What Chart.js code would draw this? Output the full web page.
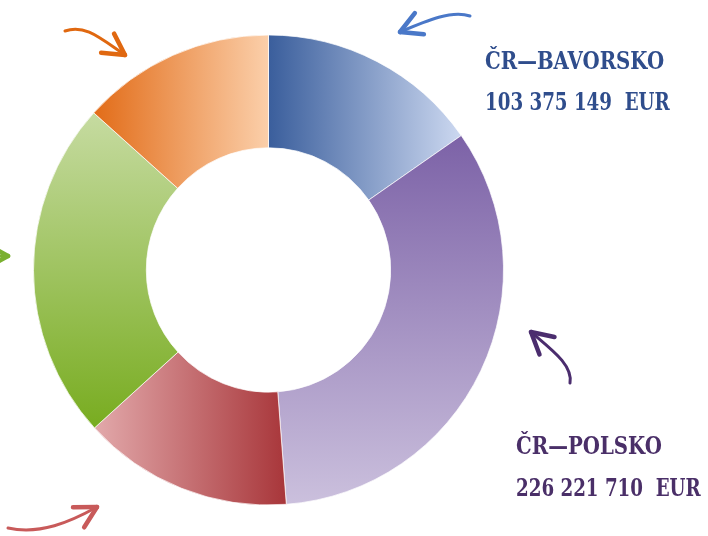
<!DOCTYPE html>
<html>
<head>
<meta charset="utf-8">
<script src="https://cdn.jsdelivr.net/npm/chart.js@4/dist/chart.umd.min.js"></script>
<style>
    html, body { margin: 0; padding: 0; background: #fff; }
    #wrap { position: relative; width: 708px; height: 536px; overflow: hidden; }
    canvas { position: absolute; left: 0; top: 0; }
    .lbl {
        position: absolute;
        font-family: "DejaVu Serif", serif;
        font-weight: bold;
        font-size: 25px;
        line-height: 1;
        white-space: pre;
        transform-origin: 0 0;
    }
    .name { transform: scaleX(0.79); }
    .sum { transform: scaleX(0.73); }
    .bav { color: #2f4d8c; }
    .pol { color: #4a2f68; }
</style>
</head>
<body>
<div id="wrap">
    <canvas id="donut" width="708" height="536"></canvas>
    <div class="lbl name bav" style="left:485px; top:48px;">ČR—BAVORSKO</div>
    <div class="lbl sum bav" style="left:485px; top:89px;">103 375 149  EUR</div>
    <div class="lbl name pol" style="left:516px; top:433px;">ČR—POLSKO</div>
    <div class="lbl sum pol" style="left:516px; top:475px;">226 221 710  EUR</div>
</div>
<script>
// programme allocations, clockwise from the top
const categories = ['ČR—Bavorsko', 'ČR—Polsko', 'Rakousko—ČR', 'Sasko—ČR', 'Slovensko—ČR'];
const amounts = [103375149, 226221710, 97814933, 157967067, 90139463];

// gradient per slice: direction, start colour, end colour
const gradDir = ['x', 'y', 'x', 'y', 'x'];
const gradFrom = ['#3a5e9c', '#7c62a7', '#e2a9ab', '#c6dba1', '#e26c18'];
const gradTo = ['#ccd8f0', '#cbc0dd', '#a8363a', '#78ac20', '#fbcfaa'];

// decorative arrows: [tail, ctrl1, ctrl2, tip], colour
const arrows = [
    { pts: [[470, 16], [452, 10], [428, 20], [400, 32]], color: '#4a78c8' },
    { pts: [[65, 31], [85, 24], [100, 38], [125, 55]], color: '#e06810' },
    { pts: [[-30, 256], [-20, 256], [-5, 256], [8, 256]], color: '#7ab030' },
    { pts: [[570, 383], [573, 365], [552, 350], [531, 332]], color: '#4b2d6e' },
    { pts: [[8, 528], [40, 535], [70, 522], [97, 507]], color: '#c85a5a' }
];

const gradientPlugin = {
    id: 'sliceGradient',
    beforeDatasetsDraw(chart) {
        const ctx = chart.ctx;
        chart.getDatasetMeta(0).data.forEach((arc, i) => {
            const p = arc.getProps(['x', 'y', 'startAngle', 'endAngle', 'innerRadius', 'outerRadius'], true);
            let minX = Infinity, maxX = -Infinity, minY = Infinity, maxY = -Infinity;
            for (let k = 0; k <= 40; k++) {
                const a = p.startAngle + (p.endAngle - p.startAngle) * k / 40;
                [p.innerRadius, p.outerRadius].forEach(r => {
                    const px = p.x + Math.cos(a) * r, py = p.y + Math.sin(a) * r;
                    minX = Math.min(minX, px); maxX = Math.max(maxX, px);
                    minY = Math.min(minY, py); maxY = Math.max(maxY, py);
                });
            }
            const g = gradDir[i] === 'x'
                ? ctx.createLinearGradient(minX, 0, maxX, 0)
                : ctx.createLinearGradient(0, minY, 0, maxY);
            g.addColorStop(0, gradFrom[i]);
            g.addColorStop(1, gradTo[i]);
            arc.options.backgroundColor = g;
        });
    }
};

const arrowPlugin = {
    id: 'arrows',
    afterDraw(chart) {
        const ctx = chart.ctx;
        ctx.save();
        ctx.lineCap = 'round';
        ctx.lineJoin = 'round';
        arrows.forEach(ar => {
            const [p0, c1, c2, p3] = ar.pts;
            ctx.strokeStyle = ar.color;
            ctx.lineWidth = 3;
            ctx.beginPath();
            ctx.moveTo(p0[0], p0[1]);
            ctx.bezierCurveTo(c1[0], c1[1], c2[0], c2[1], p3[0], p3[1]);
            ctx.stroke();
            const ang = Math.atan2(p3[1] - c2[1], p3[0] - c2[0]);
            ctx.lineWidth = 4.5;
            [-0.5, 0.5].forEach(d => {
                ctx.beginPath();
                ctx.moveTo(p3[0], p3[1]);
                ctx.lineTo(p3[0] - Math.cos(ang + d) * 24, p3[1] - Math.sin(ang + d) * 24);
                ctx.stroke();
            });
        });
        ctx.restore();
    }
};

new Chart(document.getElementById('donut'), {
    type: 'doughnut',
    data: {
        labels: categories,
        datasets: [{
            data: amounts,
            backgroundColor: gradFrom,
            borderColor: 'rgba(255,255,255,0.7)',
            borderWidth: 1
        }]
    },
    options: {
        responsive: false,
        animation: false,
        events: [],
        cutout: '52%',
        layout: { padding: { left: 33, top: 33, right: 204, bottom: 29 } },
        plugins: {
            legend: { display: false },
            tooltip: { enabled: false }
        }
    },
    plugins: [gradientPlugin, arrowPlugin]
});
</script>
</body>
</html>
